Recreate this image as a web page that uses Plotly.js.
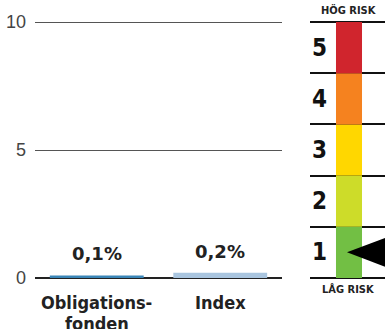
<!DOCTYPE html>
<html>
<head>
<meta charset="utf-8">
<script src="https://cdn.plot.ly/plotly-3.0.1.min.js"></script>
<style>html,body{margin:0;padding:0;background:#fff;}#chart{width:385px;height:329px;}</style>
</head>
<body>
<div id="chart"></div>
<script>
// ---- data ----
const categories = ["Obligationsfonden", "Index"];
const categoryLines = [["Obligations-", "fonden"], ["Index"]];
const values = [0.1, 0.2];            // avgift i procent
const barColors = ["#3a86b8", "#a9c5df"];
const yTicks = [0, 5, 10];
const riskLevels = [1, 2, 3, 4, 5];
const riskColors = ["#72bf44", "#cddc29", "#ffd700", "#f5821f", "#d0252d"];
const riskValue = 1;
const riskTop = "HÖG RISK";
const riskBottom = "LÅG RISK";

const fmt = v => v.toFixed(1).replace(".", ",") + "%";
const narrow = "'Liberation Sans Narrow', 'DejaVu Sans Condensed', 'Liberation Sans', sans-serif";

const traces = [];
traces.push({
  type: "bar", x: categories, y: values, xaxis: "x", yaxis: "y",
  marker: {color: barColors, line: {width: 0}}, hoverinfo: "none"
});
// risk scale
riskLevels.forEach((lvl, i) => {
  traces.push({
    type: "bar", x: [0.52], y: [1], base: [lvl - 1], width: [0.347],
    xaxis: "x2", yaxis: "y2", marker: {color: riskColors[i], line: {width: 0}},
    hoverinfo: "none"
  });
});
// arrow pointing at the risk level
traces.push({
  type: "scatter", mode: "lines", xaxis: "x2", yaxis: "y2",
  x: [0.493, 1.05, 1.05, 0.493],
  y: [riskValue - 0.5, riskValue - 0.5 + 0.31, riskValue - 0.5 - 0.31, riskValue - 0.5],
  fill: "toself", fillcolor: "#000", line: {width: 0, color: "#000"}, hoverinfo: "none"
});

const annotations = [];
categories.forEach((c, i) => {
  annotations.push({
    x: c, xref: "x", y: values[i], yref: "y", yanchor: "bottom", yshift: 9,
    text: fmt(values[i]), showarrow: false,
    font: {family: "'DejaVu Sans', sans-serif", size: 18, color: "#222", weight: "bold"}
  });
  categoryLines[i].forEach((line, j) => {
    annotations.push({
      x: c, xref: "x", y: 0, yref: "y", yanchor: "top", yshift: -12 - 21 * j,
      text: line, showarrow: false,
      font: {family: narrow, size: 18, color: "#222", weight: "bold"}
    });
  });
});
riskLevels.forEach(lvl => {
  annotations.push({
    x: 0.0, xref: "x2", xanchor: "left", y: lvl - 0.5, yref: "y2", yanchor: "middle",
    text: String(lvl), showarrow: false,
    font: {family: narrow, size: 24, color: "#111", weight: "bold"}
  });
});
annotations.push({
  x: 0.507, xref: "x2", y: 5, yref: "y2", yanchor: "bottom", yshift: 3,
  text: riskTop, showarrow: false,
  font: {family: narrow, size: 11, color: "#222", weight: "bold"}
});
annotations.push({
  x: 0.507, xref: "x2", y: 0, yref: "y2", yanchor: "top", yshift: -3,
  text: riskBottom, showarrow: false,
  font: {family: narrow, size: 11, color: "#222", weight: "bold"}
});

const layout = {
  width: 385, height: 329,
  margin: {l: 35, r: 0, t: 20, b: 49, pad: 0},
  paper_bgcolor: "#fff", plot_bgcolor: "#fff",
  showlegend: false, bargap: 0.24, barmode: "overlay",
  xaxis: {domain: [0, 247 / 350], showticklabels: false, showgrid: false, zeroline: false,
          showline: false, ticks: "", fixedrange: true},
  yaxis: {range: [-0.08, 10.08], tickvals: yTicks, showgrid: true, gridcolor: "#555", gridwidth: 1,
          zeroline: true, zerolinecolor: "#222", zerolinewidth: 2.5, showline: false, ticks: "",
          ticklabelstandoff: 8,
          tickfont: {family: "'Liberation Sans', sans-serif", size: 18, color: "#444"}},
  xaxis2: {domain: [275 / 350, 1], range: [0, 1], anchor: "y2", showticklabels: false,
           showgrid: false, zeroline: false, showline: false, ticks: ""},
  yaxis2: {domain: [0, 1], range: [-0.04, 5.04], anchor: "x2", tickvals: [0].concat(riskLevels),
           showticklabels: false, showgrid: true, gridcolor: "#111", gridwidth: 2,
           zeroline: false, showline: false, ticks: ""},
  annotations: annotations
};

Plotly.newPlot("chart", traces, layout, {staticPlot: true, displayModeBar: false});
</script>
</body>
</html>
